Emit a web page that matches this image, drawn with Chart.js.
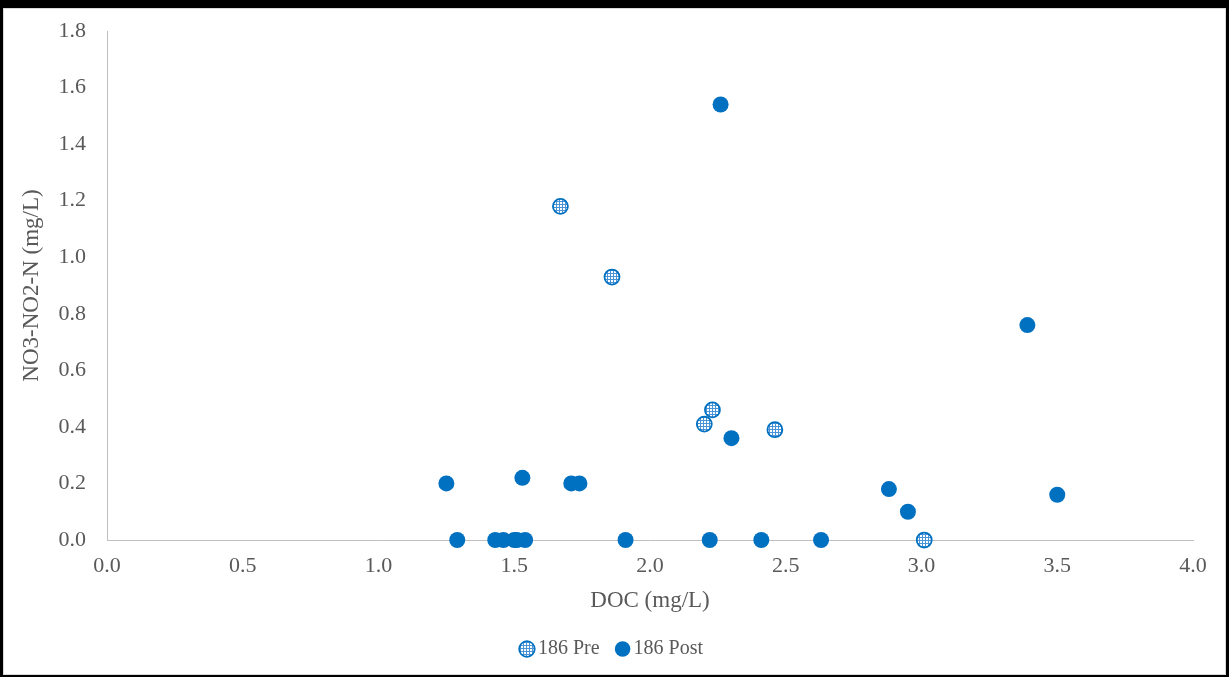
<!DOCTYPE html>
<html>
<head>
<meta charset="utf-8">
<script src="https://cdn.jsdelivr.net/npm/chart.js@4"></script>
<style>
  html, body { margin: 0; padding: 0; background: #000; }
  #frame {
    position: absolute; left: 3px; top: 8px;
    width: 1223px; height: 667px;
    box-sizing: border-box;
    border: 1px solid #d9d9d9;
    background: #fff;
  }
  #chart { display: block; }
</style>
</head>
<body>
<div id="frame"><canvas id="chart" width="1221" height="665"></canvas></div>
<script>
// values
const preX = [1.67, 1.86, 2.20, 2.23, 2.46, 3.01];
const preY = [1.18, 0.93, 0.41, 0.46, 0.39, 0.0];

const postX = [1.25, 1.29, 1.43, 1.46, 1.50, 1.51, 1.54, 1.53, 1.71, 1.74, 1.91, 2.26, 2.22, 2.30, 2.41, 2.63, 2.88, 2.95, 3.39, 3.50];
const postY = [0.20, 0.0, 0.0, 0.0, 0.0, 0.0, 0.0, 0.22, 0.20, 0.20, 0.0, 1.54, 0.0, 0.36, 0.0, 0.0, 0.18, 0.10, 0.76, 0.16];

const seriesNames = ["186 Pre", "186 Post"];
const xTitle = "DOC (mg/L)";
const yTitle = "NO3-NO2-N (mg/L)";

const serif = "'Liberation Serif', 'Times New Roman', serif";
const grey = "#595959";
const axisGrey = "#bfbfbf";
const blue = "#0070c0";

function toPoints(xs, ys) {
  return xs.map(function (x, i) {
    return { x: x, y: ys[i] };
  });
}

// small grid texture for the "Pre" markers
function makePattern() {
  var tile = document.createElement("canvas");
  tile.width = 3;
  tile.height = 3;
  var t = tile.getContext("2d");
  t.fillStyle = "#ffffff";
  t.fillRect(0, 0, 3, 3);
  t.fillStyle = "#4a93d6";
  t.fillRect(0, 0, 3, 1);
  t.fillRect(0, 0, 1, 3);
  return document.getElementById("chart").getContext("2d").createPattern(tile, "repeat");
}

const prePattern = makePattern();

var ctx = document.getElementById("chart");

window.myChart = new Chart(ctx, {
  type: "scatter",
  data: {
    datasets: [
      {
        label: seriesNames[0],
        data: toPoints(preX, preY),
        pointStyle: "circle",
        pointRadius: 7.5,
        pointHoverRadius: 7.5,
        backgroundColor: prePattern,
        borderColor: blue,
        borderWidth: 1.75,
        clip: false
      },
      {
        label: seriesNames[1],
        data: toPoints(postX, postY),
        pointStyle: "circle",
        pointRadius: 8,
        pointHoverRadius: 8,
        backgroundColor: blue,
        borderColor: blue,
        borderWidth: 0,
        clip: false
      }
    ]
  },
  options: {
    responsive: false,
    animation: false,
    devicePixelRatio: 1,
    layout: {
      padding: { left: 0, right: 0, top: 22, bottom: 5 }
    },
    scales: {
      x: {
        type: "linear",
        min: 0,
        max: 4,
        afterFit: function (scale) { scale.height = 77; },
        ticks: {
          stepSize: 0.5,
          padding: 13,
          color: grey,
          font: { family: serif, size: 22 },
          callback: function (v) { return Number(v).toFixed(1); }
        },
        grid: { display: false, drawTicks: false },
        border: { display: true, color: axisGrey, width: 1 },
        title: {
          display: true,
          text: xTitle,
          color: grey,
          font: { family: serif, size: 23, lineHeight: 1.2 },
          padding: { top: 0, bottom: 2 }
        }
      },
      y: {
        type: "linear",
        min: 0,
        max: 1.8,
        afterFit: function (scale) { scale.width = 103; },
        ticks: {
          stepSize: 0.2,
          padding: 0,
          color: grey,
          font: { family: serif, size: 22 },
          callback: function (v) { return Number(v).toFixed(1); }
        },
        // invisible tick marks keep the labels away from the axis line
        grid: {
          display: true,
          drawOnChartArea: false,
          drawTicks: true,
          tickLength: 21,
          tickColor: "rgba(0,0,0,0)"
        },
        border: { display: true, color: axisGrey, width: 1 },
        title: {
          display: true,
          text: yTitle,
          color: grey,
          font: { family: serif, size: 23, lineHeight: 1.2 },
          padding: { top: 14, bottom: 0 }
        }
      },
      // empty right gutter so the legend stays centred on the whole canvas
      gutter: {
        type: "linear",
        position: "right",
        display: false,
        afterFit: function (scale) { scale.width = 32; }
      }
    },
    plugins: {
      legend: {
        display: true,
        position: "bottom",
        labels: {
          usePointStyle: true,
          boxWidth: 2,
          boxHeight: 11,
          padding: 22,
          color: grey,
          font: { family: serif, size: 20 }
        }
      },
      tooltip: { enabled: false }
    }
  }
});
</script>
</body>
</html>
